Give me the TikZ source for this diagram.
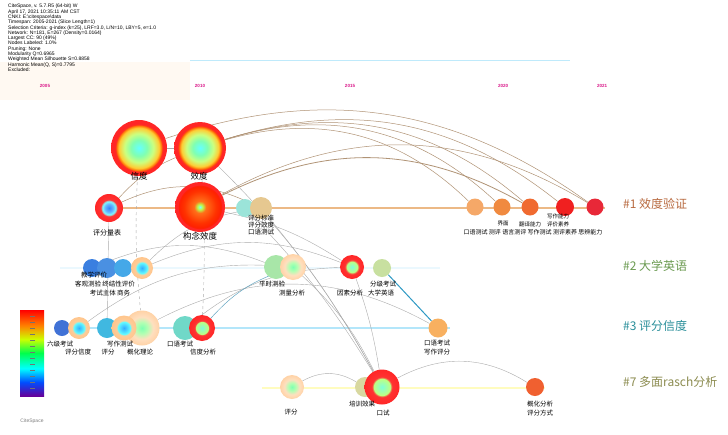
\documentclass[tikz,border=0pt]{standalone}
\usepackage{fontspec}
\setmainfont{Liberation Sans}
\newfontfamily\cjk{Noto Sans CJK SC}
\usetikzlibrary{backgrounds}

\definecolor{rA}{HTML}{F5A868}
\definecolor{rB}{HTML}{F08A40}
\definecolor{rC}{HTML}{F06A30}
\definecolor{rD}{HTML}{F02020}
\definecolor{rE}{HTML}{E82838}
\definecolor{blueA}{HTML}{3A7FE0}
\definecolor{blueB}{HTML}{4A90E2}
\definecolor{blueC}{HTML}{45A8E8}
\definecolor{cyanA}{HTML}{40B8E0}
\definecolor{mintA}{HTML}{70D8C8}
\definecolor{greenA}{HTML}{A8E6A8}
\definecolor{greenB}{HTML}{C8E0A0}
\definecolor{olivA}{HTML}{D8D8A0}
\definecolor{tanA}{HTML}{E6C890}
\definecolor{orA}{HTML}{F8B060}
\definecolor{orB}{HTML}{F06030}
\definecolor{cl1}{HTML}{B86A40}
\definecolor{cl2}{HTML}{6A9A50}
\definecolor{cl3}{HTML}{2A8F9A}
\definecolor{cl7}{HTML}{8C8C50}

\pgfdeclareradialshading{ringgreen}{\pgfpointorigin}{color(0bp)=(cyan!60!white); color(7bp)=(cyan!40!green!50!white); color(13bp)=(green!40!yellow!50!white); color(18bp)=(orange!50!yellow!80!white); color(20.5bp)=(orange!75!red); color(21bp)=(red!85!white); color(25bp)=(red!85!white); color(50bp)=(red!85!white)}
\pgfdeclareradialshading{ringhot}{\pgfpointorigin}{color(0bp)=(cyan!50!white); color(2.5bp)=(green!40!yellow!70!white); color(6bp)=(orange!75!red!90!white); color(16bp)=(red!60!orange); color(21bp)=(red!75!orange); color(22bp)=(red!85!white); color(25bp)=(red!85!white); color(50bp)=(red!85!white)}
\pgfdeclareradialshading{ringblue}{\pgfpointorigin}{color(0bp)=(blue!60!cyan!80!white); color(7bp)=(cyan!50!blue!60!white); color(12bp)=(cyan!50!white); color(15bp)=(red!80!white); color(25bp)=(red!85!white); color(50bp)=(red!85!white)}
\pgfdeclareradialshading{ringred}{\pgfpointorigin}{color(0bp)=(green!30!cyan!50!white); color(12bp)=(green!50!yellow!50!white); color(14bp)=(red!80!white); color(25bp)=(red!85!white); color(50bp)=(red!85!white)}
\pgfdeclareradialshading{ringtan}{\pgfpointorigin}{color(0bp)=(cyan!60!blue!80!white); color(13bp)=(cyan!60!white); color(15bp)=(orange!40!white); color(25bp)=(orange!45!white); color(50bp)=(orange!45!white)}
\pgfdeclareradialshading{ringpale}{\pgfpointorigin}{color(0bp)=(cyan!40!green!50!white); color(8bp)=(green!30!white); color(16bp)=(orange!25!white); color(25bp)=(orange!35!white); color(50bp)=(orange!35!white)}
\pgfdeclareverticalshading{rainbowbar}{100bp}{color(0bp)=(violet); color(25bp)=(violet!80!blue); color(33bp)=(blue!70!cyan); color(41bp)=(cyan); color(50bp)=(green!70!cyan); color(58bp)=(yellow!80!green); color(66bp)=(orange); color(75bp)=(red); color(100bp)=(red)}

\begin{document}
\begin{tikzpicture}[x=1pt,y=-1pt]
        \tikzstyle{dot} = [circle, inner sep=0pt]
        \tikzstyle{lab} = [font=\cjk\fontsize{6.5}{7}\selectfont, inner sep=0pt]
        \tikzstyle{biglab} = [font=\cjk\fontsize{8.5}{9}\selectfont, inner sep=0pt]
        \tikzstyle{cluster} = [font=\cjk\fontsize{12}{13}\selectfont, anchor=west, inner sep=0pt]
        \tikzstyle{yr} = [font=\fontsize{4.5}{5}\selectfont\bfseries, text=magenta!80!violet]
        \tikzstyle{arc} = [draw=brown!55!gray!85, line width=0.5pt]
        \tikzstyle{gline} = [draw=gray!65, line width=0.4pt]

        \useasboundingbox (0,0) rectangle (728,434);

        % header and legend
        \node (info) [anchor=north west, inner sep=0pt, align=left, font=\fontsize{5}{5.3}\selectfont] at (8,4) {CiteSpace, v. 5.7.R5 (64-bit) W\\April 17, 2021 10:35:11 AM CST\\CNKI: E:\textbackslash citespace\textbackslash data\\Timespan: 2005-2021 (Slice Length=1)\\Selection Criteria: g-index (k=25), LRF=3.0, L/N=10, LBY=5, e=1.0\\Network: N=181, E=267 (Density=0.0164)\\Largest CC: 90 (49\%)\\Nodes Labeled: 1.0\%\\Pruning: None\\Modularity Q=0.6965\\Weighted Mean Silhouette S=0.8858\\Harmonic Mean(Q, S)=0.7795\\Excluded:};
        \node (legend) [shade, shading=rainbowbar, minimum width=24, minimum height=86, inner sep=0pt] at (32,353) {};
        \foreach \y in {316,322,...,392}
            \draw [black!55, line width=0.3pt] (30,\y) -- (35,\y);
        \node (logo) [font=\fontsize{5}{6}\selectfont, text=gray] at (32,421) {CiteSpace};

        \node (y05) [yr] at (45,86) {2005};
        \node (y10) [yr] at (200,86) {2010};
        \node (y15) [yr] at (350,86) {2015};
        \node (y20) [yr] at (503,86) {2020};
        \node (y21) [yr] at (602,86) {2021};

        % cluster #1
        \node (xindu) [dot, shade, shading=ringgreen, minimum size=56] at (139,148) {};
        \node (xiaodu) [dot, shade, shading=ringgreen, minimum size=52] at (200,148) {};
        \node (pfl) [dot, shade, shading=ringblue, minimum size=28] at (109,208) {};
        \node (gnxd) [dot, shade, shading=ringhot, minimum size=50] at (200,207) {};
        \node (pfa) [dot, fill=mintA!70!white, minimum size=18] at (245,208) {};
        \node (pfb) [dot, fill=tanA, minimum size=22] at (261,208) {};
        \node (r1) [dot, fill=rA, minimum size=17] at (475,207) {};
        \node (r2) [dot, fill=rB, minimum size=17] at (502,207) {};
        \node (r3) [dot, fill=rC, minimum size=17] at (530,207) {};
        \node (r4) [dot, fill=rD, minimum size=18] at (565,207) {};
        \node (r5) [dot, fill=rE, minimum size=17] at (595,207) {};

        \node (lxindu) [biglab] at (139,176) {信度};
        \node (lxiaodu) [biglab] at (199,176) {效度};
        \node (lpfl) [lab, font=\cjk\fontsize{7}{8}\selectfont] at (107,233) {评分量表};
        \node (lgnxd) [biglab] at (200,236) {构念效度};
        \node (lpf) [lab, align=center] at (261,225) {评分标准\\评分效度\\口语测试};
        \node (lr4) [lab, font=\cjk\fontsize{5.5}{6}\selectfont] at (558,216) {写作能力};
        \node (lr2) [lab, font=\cjk\fontsize{5.5}{6}\selectfont] at (503,224) {界面};
        \node (lr3) [lab, font=\cjk\fontsize{5.5}{6}\selectfont] at (530,224) {翻译能力};
        \node (lr5) [lab, font=\cjk\fontsize{5.5}{6}\selectfont] at (558,224) {评价素养};
        \node (lr1) [lab, font=\cjk\fontsize{6}{7}\selectfont] at (533,232) {口语测试 测评 语言测评 写作测试 测评素养 思辨能力};

        % cluster #2
        \node (c2a) [dot, fill=blueA, minimum size=18] at (92,268) {};
        \node (c2b) [dot, fill=blueB, minimum size=20] at (107,268) {};
        \node (c2c) [dot, fill=blueC, minimum size=18] at (123,268) {};
        \node (c2d) [dot, shade, shading=ringtan, minimum size=22] at (142,268) {};
        \node (c2e) [dot, fill=greenA, minimum size=24] at (276,267) {};
        \node (c2f) [dot, shade, shading=ringpale, minimum size=26] at (293,267) {};
        \node (c2g) [dot, shade, shading=ringred, minimum size=24] at (352,267) {};
        \node (c2h) [dot, fill=greenB, minimum size=18] at (382,268) {};

        \node (lc2a) [lab] at (94,275) {教学评价};
        \node (lc2b) [lab] at (105,284) {客观测验 终结性评价};
        \node (lc2d) [lab] at (110,293) {考试主体 商务};
        \node (lc2e) [lab] at (272,284) {平时测验};
        \node (lc2f) [lab] at (292,293) {测量分析};
        \node (lc2g) [lab] at (350,293) {因素分析};
        \node (lc2h) [lab] at (383,284) {分级考试};
        \node (lc2i) [lab] at (381,293) {大学英语};

        % cluster #3
        \node (c3a) [dot, fill=blueA!90!violet, minimum size=16] at (62,328) {};
        \node (c3b) [dot, shade, shading=ringtan, minimum size=22] at (79,328) {};
        \node (c3e) [dot, shade, shading=ringpale, minimum size=35] at (142,328) {};
        \node (c3c) [dot, fill=cyanA, minimum size=20] at (107,328) {};
        \node (c3d) [dot, shade, shading=ringtan, minimum size=25] at (124,328) {};
        \node (c3f) [dot, fill=mintA, minimum size=24] at (185,328) {};
        \node (c3g) [dot, shade, shading=ringred, minimum size=26] at (202,328) {};
        \node (c3h) [dot, fill=orA, minimum size=19] at (438,328) {};

        \node (lc3a) [lab] at (60,344) {六级考试};
        \node (lc3b) [lab] at (78,352) {评分信度};
        \node (lc3c) [lab] at (120,344) {写作测试};
        \node (lc3d) [lab] at (108,352) {评分};
        \node (lc3e) [lab] at (140,352) {概化理论};
        \node (lc3f) [lab] at (180,344) {口语考试};
        \node (lc3g) [lab] at (203,352) {信度分析};
        \node (lc3h) [lab] at (437,343) {口语考试};
        \node (lc3i) [lab] at (437,352) {写作评分};

        % cluster #7
        \node (c7a) [dot, shade, shading=ringpale, minimum size=24] at (292,387) {};
        \node (c7b) [dot, fill=olivA, minimum size=20] at (365,387) {};
        \node (c7c) [dot, shade, shading=ringred, minimum size=35] at (382,387) {};
        \node (c7d) [dot, fill=orB, minimum size=18] at (535,387) {};

        \node (lc7a) [lab] at (291,412) {评分};
        \node (lc7b) [lab] at (362,404) {培训效果};
        \node (lc7c) [lab] at (383,413) {口试};
        \node (lc7d) [lab] at (540,404) {概化分析};
        \node (lc7e) [lab] at (540,413) {评分方式};

        % cluster names
        \node (k1) [cluster, text=cl1] at (623,204) {\#1 效度验证};
        \node (k2) [cluster, text=cl2] at (623,266) {\#2 大学英语};
        \node (k3) [cluster, text=cl3] at (623,326) {\#3 评分信度};
        \node (k7) [cluster, text=cl7] at (623,382) {\#7 多面rasch分析};

        \begin{scope}[on background layer]
            \fill [white] (0,0) rectangle (728,434);
            \fill [orange!5] (0,62) rectangle (190,100);
            \coordinate (h1) at (190,60);
            \coordinate (h2) at (570,60);
            \draw [cyan!25, line width=1pt] (h1) -- (h2);

            % timelines
            \coordinate (t1a) at (95,208);
            \coordinate (t1b) at (605,208);
            \coordinate (t2a) at (60,268);
            \coordinate (t2b) at (440,268);
            \coordinate (t3a) at (55,328);
            \coordinate (t3b) at (450,328);
            \coordinate (t7a) at (262,388);
            \coordinate (t7b) at (545,388);
            \draw [orange!45!brown!55!white, line width=1.2pt] (t1a) -- (t1b);
            \draw [cyan!8, line width=2pt] (t2a) -- (t2b);
            \draw [cyan!30, line width=2.5pt] (t3a) -- (t3b);
            \draw [yellow!25, line width=2.5pt] (t7a) -- (t7b);

            % links
            \draw [gline] (xindu) -- (xiaodu);
            \draw [arc] (xiaodu) to[bend left=30] (r1);
            \draw [arc] (xiaodu) to[bend left=30] (r2);
            \draw [arc] (xiaodu) to[bend left=29] (r3);
            \draw [arc] (xiaodu) to[bend left=28] (r4);
            \draw [arc] (xindu) to[bend left=27] (r5);
            \draw [arc, line width=0.8pt] (gnxd) to[bend left=28] (r3);
            \draw [arc] (gnxd) to[bend left=30] (r5);
            \draw [arc] (pfl) to[bend left=12] (xiaodu);
            \draw [arc] (pfl) to[bend left=25] (pfb);
            \draw [gline] (xiaodu) to[bend left=8] (c7c);
            \draw [gline] (pfa) to[bend left=6] (c7c);
            \draw [gline] (pfb) to[bend left=5] (c7c);
            \draw [gline] (gnxd) to[bend left=10] (c2g);
            \draw [gline, dashed] (xindu) to[bend right=4] (c3e);
            \draw [gline, dashed] (xiaodu) to[bend left=3] (c3g);
            \draw [gline] (pfl) -- (c3c);
            \draw [gline] (c2a) to[bend left=22] (c2e);
            \draw [gline] (c2d) to[bend left=22] (c2g);
            \draw [gline] (c2d) to[bend left=18] (pfb);
            \draw [gline] (c3b) to[bend left=20] (c2f);
            \draw [gline] (c3e) to[bend left=28] (c3h);
            \draw [gline] (c3f) to[bend left=18] (c2g);
            \draw [cyan!50!gray, line width=0.5pt] (c3g) to[bend left=14] (c2f);
            \draw [cyan!55!teal, line width=1pt] (c2h) -- (c3h);
            \draw [gline] (c2g) to[bend left=5] (c7c);
            \draw [gline] (c2f) to[bend left=10] (c7c);
            \draw [gline] (c7a) to[bend left=30] (c7b);
            \draw [gline] (c7c) to[bend left=30] (c7d);
        \end{scope}
    \end{tikzpicture}
\end{document}
